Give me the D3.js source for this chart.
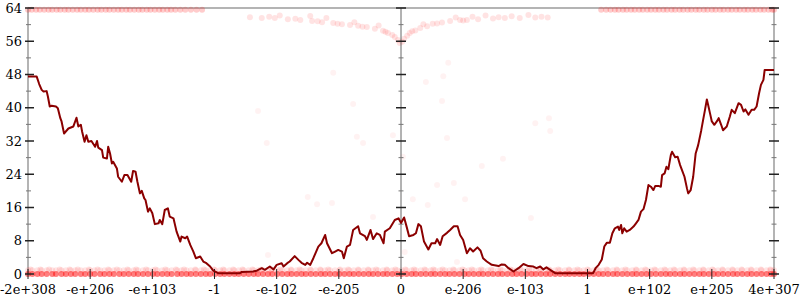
<!DOCTYPE html>
<html>
<head>
<meta charset="utf-8">
<script src="https://cdn.jsdelivr.net/npm/d3@7"></script>
<style>
  body { margin: 0; background: #fff; }
</style>
</head>
<body>
<div id="chart"></div>
<script>

// Tick positions are in "axis units": one unit between two labelled ticks.

var xTickPos = [-6, -5, -4, -3, -2, -1, 0, 1, 2, 3, 4, 5, 6];
var xTickLabels = ["-2e+308", "-e+206", "-e+103", "-1", "-e-102", "-e-205", "0",
                   "e-206", "e-103", "1", "e+102", "e+205", "4e+307"];
var yMajor = [0, 8, 16, 24, 32, 40, 48, 56, 64];
var yMinor = [4, 12, 20, 28, 36, 44, 52, 60];

// Smoothed series (dark red line)

var lineX = [-6.00, -5.86, -5.82, -5.78, -5.75, -5.70, -5.68, -5.65, -5.62, -5.55, -5.52, -5.48, -5.46, -5.42,
    -5.35, -5.27, -5.22, -5.19, -5.15, -5.13, -5.09, -5.06, -5.03, -4.98, -4.92, -4.89, -4.87, -4.81, -4.79,
    -4.73, -4.71, -4.68, -4.65, -4.63, -4.57, -4.55, -4.49, -4.45, -4.40, -4.34, -4.31, -4.27, -4.24, -4.20,
    -4.17, -4.13, -4.11, -4.07, -4.04, -4.00, -3.96, -3.90, -3.88, -3.84, -3.80, -3.75, -3.72, -3.66, -3.61,
    -3.55, -3.53, -3.47, -3.44, -3.39, -3.34, -3.30, -3.23, -3.18, -3.13, -3.07, -3.02, -2.94, -2.59, -2.56,
    -2.38, -2.32, -2.24, -2.19, -2.11, -2.05, -2.00, -1.92, -1.89, -1.83, -1.79, -1.71, -1.65, -1.60, -1.54,
    -1.51, -1.46, -1.41, -1.33, -1.28, -1.22, -1.19, -1.11, -1.06, -1.01, -0.95, -0.92, -0.87, -0.82, -0.77,
    -0.69, -0.66, -0.58, -0.55, -0.49, -0.45, -0.39, -0.34, -0.28, -0.26, -0.18, -0.10, -0.04, 0.00, 0.05,
    0.09, 0.13, 0.20, 0.24, 0.28, 0.32, 0.37, 0.44, 0.49, 0.55, 0.58, 0.63, 0.67, 0.74, 0.79, 0.85, 0.91,
    0.95, 1.00, 1.06, 1.11, 1.16, 1.23, 1.28, 1.32, 1.38, 1.46, 1.57, 1.62, 1.67, 1.73, 1.81, 1.89, 1.97,
    2.05, 2.13, 2.18, 2.24, 2.29, 2.34, 2.40, 2.48, 3.01, 3.09, 3.13, 3.18, 3.23, 3.27, 3.31, 3.36, 3.40,
    3.44, 3.49, 3.51, 3.54, 3.56, 3.59, 3.63, 3.68, 3.74, 3.78, 3.82, 3.86, 3.90, 3.94, 3.98, 4.02, 4.06,
    4.09, 4.14, 4.18, 4.20, 4.24, 4.27, 4.30, 4.34, 4.36, 4.41, 4.45, 4.49, 4.52, 4.56, 4.60, 4.62, 4.66,
    4.70, 4.74, 4.78, 4.83, 4.86, 4.89, 4.92, 4.94, 4.97, 5.00, 5.04, 5.08, 5.11, 5.15, 5.18, 5.24, 5.29,
    5.32, 5.37, 5.43, 5.47, 5.51, 5.54, 5.59, 5.64, 5.68, 5.72, 5.76, 5.79, 5.83, 5.85, 6.00];

var lineY = [47.5, 47.5, 45.7, 44.3, 43.9, 44.0, 42.7, 40.3, 40.5, 40.3, 39.9, 37.5, 36.7, 33.8,
    35.0, 35.5, 37.6, 35.5, 35.9, 34.3, 31.8, 33.4, 31.8, 32.0, 30.6, 32.0, 30.4, 29.8, 28.0,
    27.8, 30.6, 29.0, 26.6, 27.0, 25.4, 23.4, 22.2, 23.8, 23.8, 22.2, 24.8, 24.6, 22.2, 19.4,
    20.0, 18.2, 17.8, 15.0, 15.8, 14.6, 12.0, 12.2, 13.0, 12.0, 15.4, 15.8, 13.8, 13.4, 10.2,
    7.8, 9.0, 8.6, 9.0, 7.0, 5.4, 3.8, 4.2, 3.0, 2.6, 1.8, 0.8, 0.2, 0.2, 0.5,
    0.6, 0.8, 1.4, 1.0, 1.8, 1.1, 2.2, 2.6, 1.8, 2.6, 3.0, 4.3, 3.4, 2.7, 2.2,
    2.7, 2.2, 3.8, 6.6, 7.4, 9.4, 7.4, 5.0, 5.4, 5.8, 5.4, 3.8, 6.6, 7.0, 10.6,
    11.5, 9.8, 9.1, 8.2, 10.6, 8.4, 9.8, 9.4, 7.4, 10.2, 11.0, 13.0, 13.4, 12.3, 13.6,
    11.4, 9.1, 9.4, 9.8, 12.0, 11.5, 7.8, 5.9, 7.4, 7.4, 8.4, 7.0, 9.1, 9.9, 10.6, 11.5, 11.5,
    9.4, 8.2, 5.0, 6.2, 5.4, 6.4, 5.6, 3.8, 3.0, 2.2, 1.9, 2.3, 2.2, 1.4, 0.6, 1.4, 2.4,
    1.9, 1.8, 1.4, 1.8, 1.1, 1.6, 1.0, 0.2, 0.2, 0.2, 1.4, 2.2, 3.5, 6.6, 7.5, 7.5, 9.8,
    11.0, 11.4, 10.6, 11.8, 9.8, 11.0, 10.2, 10.6, 11.4, 12.2, 13.0, 15.0, 15.6, 17.8, 21.4, 21.0, 20.2,
    21.2, 21.2, 21.0, 23.8, 24.2, 25.8, 25.2, 28.6, 29.4, 28.1, 28.2, 26.2, 25.0, 23.4, 20.6, 19.4, 20.2,
    23.4, 29.0, 31.0, 34.6, 37.1, 39.5, 42.0, 40.7, 38.7, 36.7, 35.9, 36.7, 37.5, 35.9, 34.6, 35.5, 37.9,
    39.5, 38.7, 41.1, 40.7, 39.1, 39.6, 38.3, 39.5, 39.5, 40.3, 43.5, 45.5, 46.7, 49.1, 49.1];

// Raw samples (faint red dots)

var bottomX = [-6.00, -5.93, -5.85, -5.78, -5.70, -5.61, -5.55, -5.46, -5.39, -5.31, -5.24, -5.15, -5.08,
    -5.00, -4.93, -4.84, -4.77, -4.69, -4.62, -4.53, -4.46, -4.38, -4.30, -4.23, -4.15, -4.07, -3.99, -3.92,
    -3.84, -3.76, -3.69, -3.60, -3.53, -3.45, -3.38, -3.30, -3.22, -3.14, -3.07, -2.99, -2.91, -2.84, -2.76,
    -2.68, -2.61, -2.53, -2.45, -2.37, -2.30, -2.22, -2.14, -2.07, -1.99, -1.91, -1.83, -1.76, -1.68, -1.60,
    -1.53, -1.45, -1.37, -1.29, -1.22, -1.14, -1.06, -0.99, -0.91, -0.83, -0.76, -0.68, -0.60, -0.52, -0.45,
    -0.37, -0.29, -0.22, -0.14, -0.06, 0.01, 0.09, 0.17, 0.24, 0.32, 0.40, 0.48, 0.55, 0.63, 0.71, 0.78,
    0.86, 0.94, 1.02, 1.09, 1.17, 1.25, 1.32, 1.40, 1.48, 1.56, 1.63, 1.71, 1.79, 1.86, 1.94, 2.02, 2.10,
    2.17, 2.25, 2.33, 2.40, 2.48, 2.56, 2.64, 2.71, 2.79, 2.87, 2.94, 3.02, 3.10, 3.18, 3.25, 3.33, 3.41,
    3.48, 3.56, 3.64, 3.72, 3.79, 3.87, 3.95, 4.02, 4.10, 4.18, 4.26, 4.33, 4.41, 4.49, 4.56, 4.64, 4.72,
    4.80, 4.87, 4.95, 5.03, 5.10, 5.18, 5.26, 5.34, 5.41, 5.49, 5.57, 5.64, 5.72, 5.80, 5.88, 5.95, 6.00];

var haloX = [-5.96, -5.80, -5.66, -5.49, -5.33, -5.20, -5.02, -4.88, -4.71, -4.57, -4.40, -4.26, -4.10,
    -3.95, -3.79, -3.62, -3.49, -3.31, -3.17, -3.01, -2.86, -2.70, -2.55, -2.39, -2.25, -2.08, -1.94, -1.77,
    -1.63, -1.46, -1.30, -1.17, -0.98, -0.85, -0.69, -0.53, -0.40, -0.23, -0.09, 0.07, 0.21, 0.38, 0.52,
    0.67, 0.84, 0.99, 1.14, 1.29, 1.45, 1.60, 1.76, 1.92, 2.06, 2.23, 2.38, 2.53, 2.70, 2.84, 3.00, 3.15,
    3.31, 3.47, 3.61, 3.78, 3.93, 4.08, 4.24, 4.39, 4.55, 4.70, 4.86, 5.01, 5.17, 5.33, 5.48, 5.63, 5.79, 5.94];

var topLeftX = [-6.00, -5.94, -5.87, -5.81, -5.74, -5.67, -5.61, -5.54, -5.48, -5.41, -5.35, -5.28, -5.21,
    -5.15, -5.08, -5.02, -4.95, -4.88, -4.82, -4.75, -4.69, -4.62, -4.55, -4.49, -4.42, -4.36, -4.29, -4.22,
    -4.16, -4.09, -4.03, -3.96, -3.89, -3.83, -3.76, -3.70, -3.63, -3.55, -3.47, -3.38, -3.29, -3.20];

var topRightX = [3.22, 3.30, 3.37, 3.44, 3.50, 3.57, 3.63, 3.70, 3.76, 3.83, 3.89, 3.96, 4.02, 4.09,
    4.15, 4.22, 4.28, 4.35, 4.41, 4.48, 4.54, 4.61, 4.67, 4.74, 4.80, 4.87, 4.93, 5.00, 5.06, 5.13, 5.19,
    5.26, 5.32, 5.39, 5.45, 5.52, 5.58, 5.65, 5.71, 5.78, 5.84, 5.91, 5.97, 6.00];

var vX = [-2.43, -2.24, -2.03, -1.82, -1.62, -1.43, -1.27, -1.09, -0.95, -0.82, -0.69, -0.55, -0.42,
    -0.29, -0.21, -0.14, -0.10, -0.05, -0.02, 0.02, 0.05, 0.10, 0.14, 0.23, 0.31, 0.42, 0.51, 0.66,
    0.79, 0.95, 1.06, 1.24, 1.48, 1.67, 1.91, 2.16, 2.36,
    -1.95, -1.46, -1.20, -0.75, -0.36, 0.36, 0.88, 1.15, 1.36, 1.78, 2.05,
    -2.12, -1.70, -1.34, -1.02, -0.62, -0.25, 0.18, 0.58, 1.00, 1.57, 2.26];
var vY = [61.8, 61.6, 61.6, 61.3, 61.1, 60.9, 60.6, 60.4, 60.1, 59.9, 59.7, 59.4, 59.0,
    58.5, 58.0, 57.5, 57.0, 56.3, 55.6, 55.9, 56.6, 57.3, 58.0, 58.6, 59.2, 59.6, 60.2, 60.5,
    60.9, 61.1, 61.1, 61.3, 61.5, 61.6, 61.6, 61.7, 61.7,
    62.2, 62.1, 61.6, 60.6, 59.8, 60.1, 61.7, 61.9, 62.2, 62.0, 62.3,
    61.9, 61.4, 60.8, 60.2, 59.5, 58.3, 58.4, 60.3, 61.0, 61.8, 61.9];

var strayX = [-2.30, -2.16, -0.77, -0.71, -0.61, -0.13, 0.66, 0.74, 1.30, 1.64, 2.16, 2.38, 2.40, -1.50,
    -1.35, -1.11, -0.45, 0.19, 0.43, 0.58, 0.85, 1.03, 2.09, -2.14, 0.90, 0.06, 0.03, -1.09, 0.76, 0.40, 0.68];
var strayY = [39.2, 31.5, 40.9, 33.0, 31.5, 33.4, 41.6, 32.7, 26.0, 27.7, 36.3, 37.5, 34.4, 18.5,
    16.8, 17.1, 13.7, 18.0, 16.6, 21.4, 21.9, 18.0, 13.5, 4.6, 2.9, 5.3, 28.2, 48.4, 50.8, 46.2, 47.6];

var width = 800,
    height = 300;

var x = d3.scaleLinear().domain([-6, 6]).range([28, 774]);
var y = d3.scaleLinear().domain([0, 64]).range([274, 8]);

var svg = d3.select("#chart")
    .append("svg")
    .attr("width", width)
    .attr("height", height)
    .style("display", "block");

svg.append("rect")
    .attr("width", width)
    .attr("height", height)
    .attr("fill", "#fff");

// Soften the sample dots a little

svg.append("defs")
    .append("filter")
    .attr("id", "soft")
    .attr("x", "-10%").attr("y", "-50%")
    .attr("width", "120%").attr("height", "200%")
    .append("feGaussianBlur")
    .attr("stdDeviation", 0.6);

// Frame: top line and the two outer vertical axes

var frame = svg.append("g")
    .attr("stroke", "#b4b4b4")
    .attr("stroke-width", 2);

frame.append("line")
    .attr("x1", x(-6)).attr("x2", x(6))
    .attr("y1", y(64)).attr("y2", y(64));

frame.selectAll("line.v")
    .data([-6, 6])
    .enter().append("line")
    .attr("class", "v")
    .attr("x1", function(d) { return x(d) }).attr("x2", function(d) { return x(d) })
    .attr("y1", y(64)).attr("y2", y(0));

// Dots

var dots = svg.append("g")
    .attr("fill", "#ff0000")
    .attr("filter", "url(#soft)");

function addDots(xs, ys, opacity, r) {
    dots.append("g")
        .attr("fill-opacity", opacity)
        .selectAll("circle")
        .data(xs)
        .enter().append("circle")
        .attr("cx", function(d) { return x(d) })
        .attr("cy", function(d, i) { return y(typeof ys === "number" ? ys : ys[i]) })
        .attr("r", r);
}

addDots(haloX, 1.1, 0.12, 3);
addDots(bottomX, 0.9, 0.1, 3);
addDots(bottomX, 0, 0.5, 3);
addDots(topLeftX, 63.6, 0.2, 3);
addDots(topRightX, 63.6, 0.2, 3);
addDots(vX, vY, 0.11, 3);
addDots(strayX, strayY, 0.05, 3);

// Centre axis

svg.append("line")
    .attr("x1", x(0)).attr("x2", x(0))
    .attr("y1", y(64)).attr("y2", y(0))
    .attr("stroke", "#666")
    .attr("stroke-width", 1);

// Y ticks on the three vertical axes

var tickAxes = [
    { pos: -6, dx1: -3, dx2: 6, mdx1: -2, mdx2: 3 },
    { pos: 0, dx1: -5, dx2: 5, mdx1: -2.5, mdx2: 2.5 },
    { pos: 6, dx1: -5, dx2: 5, mdx1: -2.5, mdx2: 2.5 }
];

tickAxes.forEach(function(a) {
    var g = svg.append("g");
    g.selectAll("line.major")
        .data(yMajor)
        .enter().append("line")
        .attr("x1", x(a.pos) + a.dx1).attr("x2", x(a.pos) + a.dx2)
        .attr("y1", function(d) { return y(d) }).attr("y2", function(d) { return y(d) })
        .attr("stroke", "#222")
        .attr("stroke-width", 1.5);
    g.selectAll("line.minor")
        .data(yMinor)
        .enter().append("line")
        .attr("x1", x(a.pos) + a.mdx1).attr("x2", x(a.pos) + a.mdx2)
        .attr("y1", function(d) { return y(d) }).attr("y2", function(d) { return y(d) })
        .attr("stroke", "#777")
        .attr("stroke-width", 1);
});

// X ticks

svg.append("g").selectAll("line")
    .data(xTickPos)
    .enter().append("line")
    .attr("x1", function(d) { return x(d) }).attr("x2", function(d) { return x(d) })
    .attr("y1", y(0) - 5).attr("y2", y(0) + 5)
    .attr("stroke", "#222")
    .attr("stroke-width", 1);

// Labels

svg.append("g").selectAll("text")
    .data(yMajor)
    .enter().append("text")
    .attr("x", 22)
    .attr("y", function(d) { return y(d) })
    .attr("dy", "0.36em")
    .attr("text-anchor", "end")
    .attr("font-family", "DejaVu Serif")
    .attr("font-size", "13px")
    .attr("fill", "#000")
    .text(function(d) { return d });

svg.append("g").selectAll("text")
    .data(xTickPos)
    .enter().append("text")
    .attr("x", function(d) { return x(d) })
    .attr("y", 294)
    .attr("text-anchor", "middle")
    .attr("font-family", "DejaVu Serif")
    .attr("font-size", "13px")
    .attr("fill", "#000")
    .text(function(d, i) { return xTickLabels[i] });

// Smoothed line

var line = d3.line()
    .x(function(d) { return x(d) })
    .y(function(d, i) { return y(lineY[i]) });

svg.append("path")
    .datum(lineX)
    .attr("d", line)
    .attr("fill", "none")
    .attr("stroke", "#8b0000")
    .attr("stroke-width", 2)
    .attr("stroke-linejoin", "round");

</script>
</body>
</html>
